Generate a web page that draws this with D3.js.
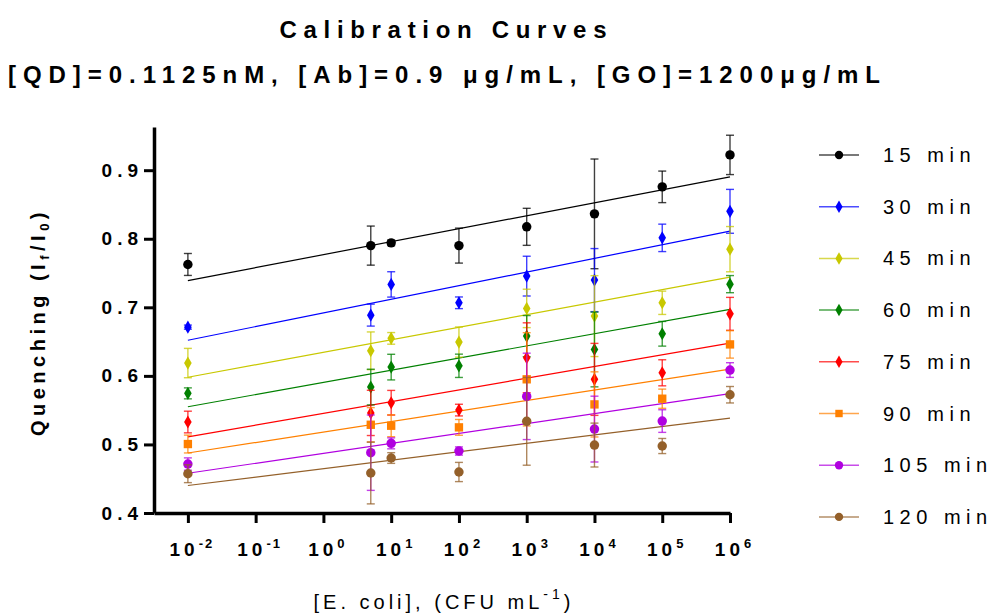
<!DOCTYPE html>
<html>
<head>
<meta charset="utf-8">
<script src="https://cdn.jsdelivr.net/npm/d3@7"></script>
<style>
  body { margin: 0; background: #fff; }
  text { font-family: "Liberation Sans", Arial, sans-serif; }
</style>
</head>
<body>
<div id="my_dataviz"></div>
<script>
var width = 992
var height = 615

// Data
var concentrations = [0.01, 5, 10, 100, 1e3, 1e4, 1e5, 1e6]
var seriesNames = ["15 min", "30 min", "45 min", "60 min", "75 min", "90 min", "105 min", "120 min"]
var seriesColors = ["#000000", "#0000ff", "#c8c800", "#008000", "#ff0000", "#ff8000", "#b000e0", "#94602a"]
var seriesShapes = ["circle", "diamond", "diamond", "diamond", "diamond", "square", "circle", "circle"]

var means = [
  [0.7625, 0.790, 0.794, 0.790, 0.8174, 0.8363, 0.8757, 0.9223],
  [0.6711, 0.6886, 0.7334, 0.7066, 0.7455, 0.7397, 0.8013, 0.840],
  [0.6187, 0.6366, 0.6547, 0.6493, 0.6984, 0.6872, 0.7066, 0.7848],
  [0.5745, 0.5837, 0.6128, 0.6147, 0.658, 0.6385, 0.6614, 0.7338],
  [0.5327, 0.546, 0.5608, 0.5501, 0.6264, 0.5949, 0.6045, 0.6905],
  [0.5006, 0.5287, 0.5273, 0.5249, 0.595, 0.5584, 0.5667, 0.6459],
  [0.4714, 0.488, 0.5016, 0.4904, 0.5701, 0.5224, 0.5341, 0.6085],
  [0.4573, 0.4583, 0.4802, 0.4598, 0.5337, 0.4991, 0.4977, 0.5725]
]
var errors = [
  [0.016, 0.0285, 0.004, 0.0255, 0.027, 0.08, 0.023, 0.0287],
  [0.003, 0.016, 0.0185, 0.0085, 0.029, 0.046, 0.020, 0.032],
  [0.0214, 0.0275, 0.0085, 0.022, 0.028, 0.059, 0.017, 0.033],
  [0.008, 0.026, 0.0187, 0.017, 0.03, 0.0545, 0.018, 0.0125],
  [0.0158, 0.033, 0.018, 0.0085, 0.051, 0.0525, 0.019, 0.024],
  [0.013, 0.025, 0.016, 0.0115, 0.068, 0.0475, 0.014, 0.02],
  [0.009, 0.055, 0.008, 0.006, 0.063, 0.048, 0.0165, 0.0107],
  [0.013, 0.045, 0.0078, 0.014, 0.064, 0.032, 0.011, 0.012]
]
// linear fits against log10(concentration)
var fitSlopes = [0.0189, 0.0199, 0.01825, 0.01775, 0.0171, 0.0153, 0.0145, 0.0123]
var fitIntercepts = [0.7768, 0.6918, 0.6345, 0.5905, 0.5453, 0.5181, 0.487, 0.4647]

var yTicks = [0.4, 0.5, 0.6, 0.7, 0.8, 0.9]
var xTickExps = [-2, -1, 0, 1, 2, 3, 4, 5, 6]

// The svg
var svg = d3.select("#my_dataviz")
    .append("svg")
    .attr("width", width)
    .attr("height", height)

// Scales
var x = d3.scaleLog()
    .domain([Math.pow(10, -2.5), 1e6])
    .range([154, 730])
var y = d3.scaleLinear()
    .domain([0.4, 0.963])
    .range([513, 127])

// Titles
svg.append("text")
    .attr("x", 443).attr("y", 38)
    .attr("text-anchor", "middle")
    .style("font-size", "24px").style("font-weight", "bold")
    .attr("textLength", 327).attr("lengthAdjust", "spacing")
    .text("Calibration Curves")
svg.append("text")
    .attr("x", 444).attr("y", 83)
    .attr("text-anchor", "middle")
    .style("font-size", "24px").style("font-weight", "bold")
    .attr("textLength", 872).attr("lengthAdjust", "spacing")
    .text("[QD]=0.1125nM, [Ab]=0.9 μg/mL, [GO]=1200μg/mL")

// Y axis
var yAxis = svg.append("g")
    .attr("transform", "translate(154,0)")
    .call(d3.axisLeft(y).tickValues(yTicks).tickSize(10).tickSizeOuter(0).tickFormat(d3.format(".1f")))
yAxis.select(".domain").attr("stroke-width", 3.5)
yAxis.selectAll(".tick line").attr("stroke-width", 3)
yAxis.selectAll(".tick text")
    .attr("x", -11)
    .style("font-size", "19px").style("font-weight", "bold")
    .style("letter-spacing", "5px")
    .style("font-family", "'Liberation Sans', Arial, sans-serif")
    .attr("fill", "#000")

// X axis
var xAxis = svg.append("g")
    .attr("transform", "translate(0,513)")
    .call(d3.axisBottom(x).tickValues(xTickExps.map(function (e) { return Math.pow(10, e) }))
        .tickSize(10).tickSizeOuter(0).tickFormat(""))
xAxis.select(".domain").attr("stroke-width", 3.5)
xAxis.selectAll(".tick line").attr("stroke-width", 3)

// x tick labels with superscripts
var xLab = svg.append("g").selectAll("text")
    .data(xTickExps)
    .enter()
    .append("text")
    .attr("x", function (d) { return x(Math.pow(10, d)) + 4 })
    .attr("y", 556)
    .attr("text-anchor", "middle")
    .style("font-size", "19px").style("font-weight", "bold")
xLab.append("tspan").style("letter-spacing", "4px").text("10")
xLab.append("tspan")
    .attr("dy", -8)
    .style("font-size", "13px")
    .style("letter-spacing", "2px")
    .text(function (d) { return d < 0 ? "-" + Math.abs(d) : d })

// Axis titles
var yTitle = svg.append("text")
    .attr("transform", "translate(45,322) rotate(-90)")
    .attr("text-anchor", "middle")
    .style("font-size", "20px").style("font-weight", "bold")
    .style("letter-spacing", "4.5px")
yTitle.append("tspan").text("Quenching (I")
yTitle.append("tspan").attr("dy", 4).style("font-size", "13px").text("f")
yTitle.append("tspan").attr("dy", -4).text("/I")
yTitle.append("tspan").attr("dy", 4).style("font-size", "13px").text("0")
yTitle.append("tspan").attr("dy", -4).text(")")

var xTitle = svg.append("text")
    .attr("x", 444).attr("y", 609)
    .attr("text-anchor", "middle")
    .style("font-size", "20px")
    .style("letter-spacing", "4px")
xTitle.append("tspan").text("[E. coli], (CFU mL")
xTitle.append("tspan").attr("dy", -10).style("font-size", "14px").text("-1")
xTitle.append("tspan").attr("dy", 10).text(")")

// symbol helper
function symbolPath(shape) {
    if (shape == "diamond") return d3.symbol().type(d3.symbolDiamond).size(50)()
    if (shape == "square") return d3.symbol().type(d3.symbolSquare).size(70)()
    return d3.symbol().type(d3.symbolCircle).size(70)()
}

var plot = svg.append("g")

// fit lines
seriesNames.forEach(function (name, i) {
    var lo = 0.01, hi = 1e6
    plot.append("line")
        .attr("x1", x(lo)).attr("y1", y(fitIntercepts[i] + fitSlopes[i] * Math.log10(lo)))
        .attr("x2", x(hi)).attr("y2", y(fitIntercepts[i] + fitSlopes[i] * Math.log10(hi)))
        .attr("stroke", seriesColors[i])
        .attr("stroke-width", 1.2)
})

// error bars and markers
seriesNames.forEach(function (name, i) {
    var pts = concentrations.map(function (c, j) { return { c: c, m: means[i][j], e: errors[i][j] } })
    var g = plot.append("g")
    var eb = g.selectAll("g.err")
        .data(pts)
        .enter()
        .append("g")
        .attr("stroke", seriesColors[i])
        .attr("stroke-opacity", 0.75)
        .attr("stroke-width", 1.4)
    eb.append("line")
        .attr("x1", function (d) { return x(d.c) }).attr("x2", function (d) { return x(d.c) })
        .attr("y1", function (d) { return y(d.m - d.e) }).attr("y2", function (d) { return y(d.m + d.e) })
    eb.append("line")
        .attr("x1", function (d) { return x(d.c) - 4 }).attr("x2", function (d) { return x(d.c) + 4 })
        .attr("y1", function (d) { return y(d.m + d.e) }).attr("y2", function (d) { return y(d.m + d.e) })
    eb.append("line")
        .attr("x1", function (d) { return x(d.c) - 4 }).attr("x2", function (d) { return x(d.c) + 4 })
        .attr("y1", function (d) { return y(d.m - d.e) }).attr("y2", function (d) { return y(d.m - d.e) })
    g.selectAll("path.mk")
        .data(pts)
        .enter()
        .append("path")
        .attr("d", symbolPath(seriesShapes[i]))
        .attr("transform", function (d) { return "translate(" + x(d.c) + "," + y(d.m) + ")" })
        .attr("fill", seriesColors[i])
})

// Legend
var legend = svg.append("g")
    .selectAll("g")
    .data(seriesNames)
    .enter()
    .append("g")
    .attr("transform", function (d, i) { return "translate(0," + (155 + i * 51.7) + ")" })
legend.append("line")
    .attr("x1", 819).attr("x2", 859)
    .attr("stroke", function (d, i) { return seriesColors[i] })
    .attr("stroke-opacity", 0.7)
    .attr("stroke-width", 1.5)
legend.append("path")
    .attr("d", function (d, i) {
        var s = seriesShapes[i] == "square" ? d3.symbolSquare : (seriesShapes[i] == "diamond" ? d3.symbolDiamond : d3.symbolCircle)
        return d3.symbol().type(s).size(seriesShapes[i] == "diamond" ? 45 : 55)()
    })
    .attr("transform", "translate(839,0)")
    .attr("fill", function (d, i) { return seriesColors[i] })
legend.append("text")
    .attr("x", 883).attr("y", 7)
    .style("font-size", "20px")
    .style("letter-spacing", "5.5px")
    .text(function (d) { return d })
</script>
</body>
</html>
